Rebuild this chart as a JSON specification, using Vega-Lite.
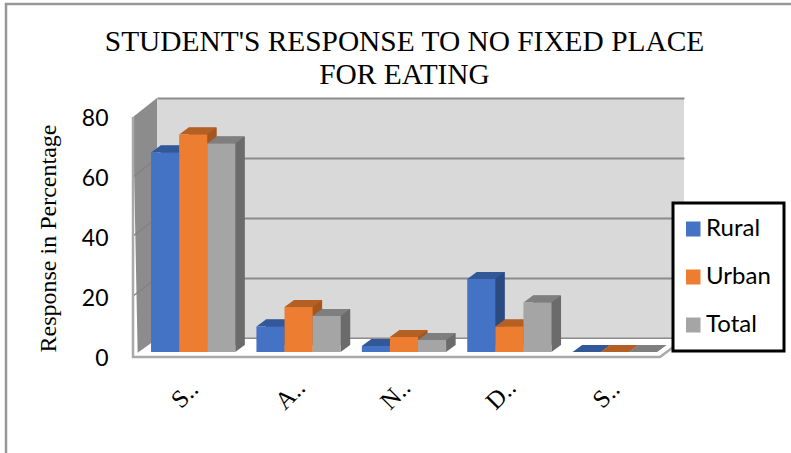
{
  "$schema": "https://vega.github.io/schema/vega-lite/v6.json",
  "width": 527,
  "height": 240,
  "autosize": "none",
  "padding": {"left": 157, "top": 98, "right": 107, "bottom": 115},
  "background": "white",
  "title": {
    "text": ["STUDENT'S RESPONSE TO NO FIXED PLACE", "FOR EATING"],
    "font": "Liberation Serif",
    "fontSize": 29.4,
    "fontWeight": "normal",
    "color": "#000000",
    "lineHeight": 33,
    "anchor": "middle",
    "baseline": "alphabetic",
    "dx": -16,
    "offset": -114
  },
  "config": {
    "view": {"fill": "#d9d9d9", "stroke": null},
    "legend": {"strokeWidth": 3}
  },
  "datasets": {
    "responses": [
      {"response": "Strongly Agree", "series": "Rural", "value": 66.5},
      {"response": "Strongly Agree", "series": "Urban", "value": 72.5},
      {"response": "Strongly Agree", "series": "Total", "value": 69.5},
      {"response": "Agree", "series": "Rural", "value": 8.5},
      {"response": "Agree", "series": "Urban", "value": 15},
      {"response": "Agree", "series": "Total", "value": 12},
      {"response": "Neutral", "series": "Rural", "value": 2},
      {"response": "Neutral", "series": "Urban", "value": 5},
      {"response": "Neutral", "series": "Total", "value": 4},
      {"response": "Disagree", "series": "Rural", "value": 24.3},
      {"response": "Disagree", "series": "Urban", "value": 8.5},
      {"response": "Disagree", "series": "Total", "value": 16.5},
      {"response": "Strongly Disagree", "series": "Rural", "value": 0},
      {"response": "Strongly Disagree", "series": "Urban", "value": 0},
      {"response": "Strongly Disagree", "series": "Total", "value": 0}
    ],
    "anchor": [
      {"response": "Strongly Agree", "value": 0}
    ]
  },
  "encoding": {
    "x": {
      "field": "response",
      "type": "nominal",
      "sort": null,
      "scale": {
        "domain": ["Strongly Agree", "Agree", "Neutral", "Disagree", "Strongly Disagree"],
        "paddingInner": 0.2,
        "paddingOuter": 0.1
      },
      "axis": {
        "title": null,
        "domain": false,
        "ticks": false,
        "grid": false,
        "labelAngle": -45,
        "labelAlign": "center",
        "labelBaseline": "middle",
        "labelExpr": "substring(datum.label, 0, 1) + '..'",
        "labelFont": "Liberation Serif",
        "labelFontSize": 25,
        "labelColor": "#000000",
        "labelPadding": 56,
        "labelOffset": -25
      }
    },
    "y": {
      "field": "value",
      "type": "quantitative",
      "scale": {"domain": [0, 80], "nice": false},
      "axis": {
        "title": "Response in Percentage",
        "titleFont": "Liberation Serif",
        "titleFontSize": 24,
        "titleFontWeight": "normal",
        "titleColor": "#000000",
        "titleX": -97,
        "titleY": 140,
        "values": [0, 20, 40, 60, 80],
        "domain": false,
        "ticks": false,
        "grid": true,
        "gridColor": "#8c8c8c",
        "gridWidth": 2,
        "labelFont": "Lato",
        "labelFontSize": 23,
        "labelColor": "#000000",
        "labelPadding": 49,
        "labelOffset": 20
      }
    }
  },
  "layer": [
    {
      "data": {"name": "anchor"},
      "mark": {"type": "point", "filled": false, "opacity": 1, "size": 4, "stroke": "#969696", "strokeWidth": 2.5,
        "shape": "M-203.7,115 L-203.7,-334 L582,-334"}
    },
    {
      "data": {"name": "anchor"},
      "mark": {"type": "point", "filled": true, "opacity": 1, "size": 4, "fill": "#8c8c8c",
        "shape": "M-76.7,-221 L-52.7,-240 L-52.7,0 L-72,17 Z"}
    },
    {
      "data": {"name": "anchor"},
      "mark": {"type": "point", "filled": false, "opacity": 1, "size": 4, "stroke": "#828282", "strokeWidth": 1.5,
        "shape": "M-76.7,-161 L-52.7,-180 M-76.7,-102 L-52.7,-120 M-76.7,-42 L-52.7,-60"}
    },
    {
      "data": {"name": "anchor"},
      "mark": {"type": "point", "filled": true, "opacity": 1, "size": 4, "fill": "#ffffff",
        "shape": "M-52.7,1 L474.3,1 L450.3,18 L-76.7,18 Z"}
    },
    {
      "data": {"name": "anchor"},
      "mark": {"type": "point", "filled": false, "opacity": 1, "size": 4, "stroke": "#a9a9a9", "strokeWidth": 2.5,
        "shape": "M-76.7,-221 L-76.7,19 L450.3,19 L474.3,1"}
    },
    {
      "data": {"name": "responses"},
      "mark": {"type": "bar", "yOffset": 7, "y2Offset": 7},
      "encoding": {
        "xOffset": {"field": "series", "sort": null, "scale": {"domain": ["Rural", "Urban", "Total"], "paddingInner": 0, "paddingOuter": 0, "range": [-7, 77.3]}},
        "y2": {"datum": 0},
        "color": {"field": "series", "sort": null, "legend": null, "scale": {"domain": ["Rural", "Urban", "Total"], "range": ["#2b4a80", "#a5561f", "#6b6b6b"]}}
      }
    },
    {
      "data": {"name": "responses"},
      "mark": {"type": "point", "filled": true, "opacity": 1, "size": 4, "yOffset": 14,
        "shape": "M28,0 L37.5,-7 L28,-7 Z"},
      "encoding": {
        "xOffset": {"field": "series", "sort": null, "scale": {"domain": ["Rural", "Urban", "Total"], "padding": 0, "range": [-16.5, 39.7]}},
        "y": {"datum": 0},
        "color": {"field": "series", "sort": null, "legend": null, "scale": {"domain": ["Rural", "Urban", "Total"], "range": ["#2b4a80", "#a5561f", "#6b6b6b"]}}
      }
    },
    {
      "data": {"name": "responses"},
      "mark": {"type": "point", "filled": true, "opacity": 1, "size": 4, "yOffset": 14,
        "shape": "M0,0 L28,0 L37.5,-7 L9.5,-7 Z"},
      "encoding": {
        "xOffset": {"field": "series", "sort": null, "scale": {"domain": ["Rural", "Urban", "Total"], "padding": 0, "range": [-16.5, 39.7]}},
        "color": {"field": "series", "sort": null, "legend": null, "scale": {"domain": ["Rural", "Urban", "Total"], "range": ["#32589a", "#b45f24", "#7f7f7f"]}}
      }
    },
    {
      "data": {"name": "responses"},
      "mark": {"type": "bar", "yOffset": 14, "y2Offset": 14},
      "encoding": {
        "xOffset": {"field": "series", "sort": null, "scale": {"domain": ["Rural", "Urban", "Total"], "paddingInner": 0, "paddingOuter": 0, "range": [-16.5, 67.8]}},
        "y2": {"datum": 0},
        "color": {
          "field": "series",
          "sort": null,
          "scale": {"domain": ["Rural", "Urban", "Total"], "range": ["#4472c4", "#ed7d31", "#a5a5a5"]},
          "legend": {
            "title": null,
            "orient": "none",
            "legendX": 516,
            "legendY": 105,
            "fillColor": "#ffffff",
            "strokeColor": "#000000",
            "padding": 13,
            "symbolType": "square",
            "symbolSize": 225,
            "symbolStrokeWidth": 0,
            "symbolOpacity": 1,
            "symbolOffset": -5,
            "labelFont": "Lato",
            "labelFontSize": 24,
            "labelColor": "#000000",
            "labelOffset": 1,
            "rowPadding": 22,
            "clipHeight": 26
          }
        }
      }
    }
  ],
  "resolve": {"scale": {"color": "independent", "xOffset": "independent"}}
}
